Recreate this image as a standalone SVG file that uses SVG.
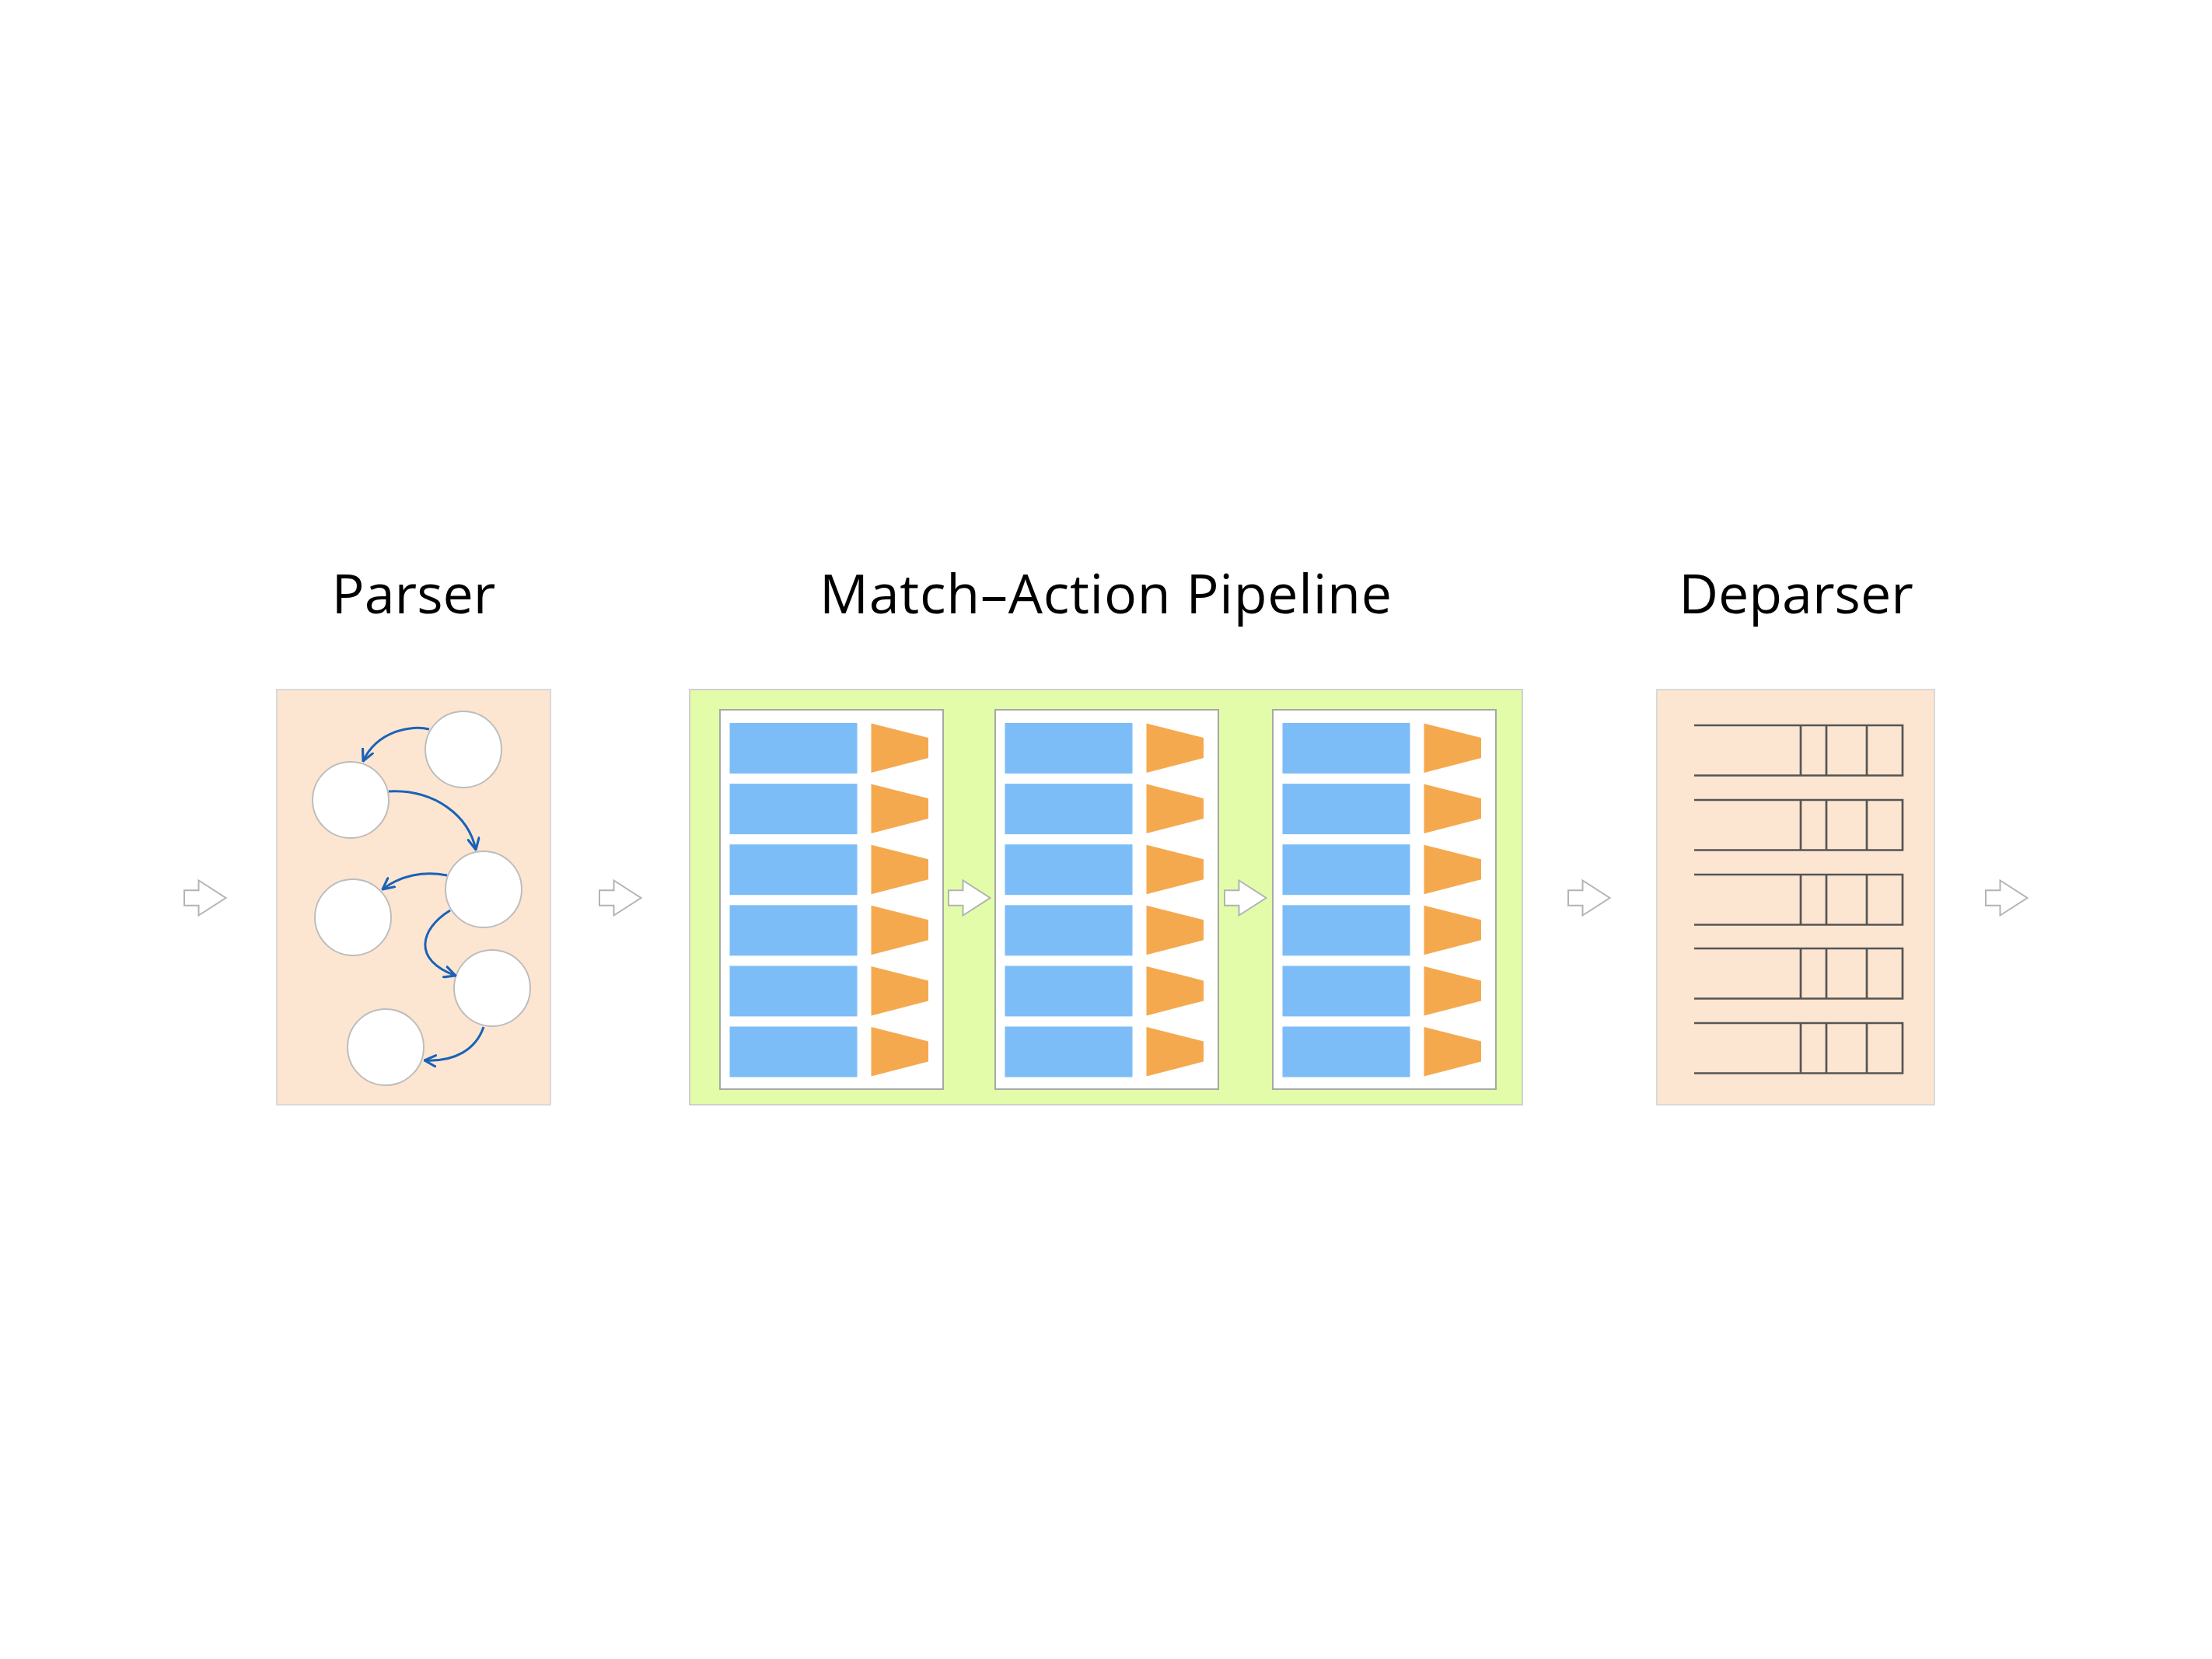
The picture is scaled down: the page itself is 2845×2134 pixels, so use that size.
<svg xmlns="http://www.w3.org/2000/svg" xmlns:xlink="http://www.w3.org/1999/xlink" width="2845" height="2134" viewBox="0 0 2845 2134">
<style>
.title{font-family:"Open Sans","DejaVu Sans",sans-serif;font-size:70px;fill:#000;text-anchor:middle}
.peach{fill:#fde6d1;stroke:#d9d9d9;stroke-width:2}
.lime{fill:#e2fca9;stroke:#d0d0d0;stroke-width:2}
.stage{fill:#fff;stroke:#a8a8a8;stroke-width:2}
.blue{fill:#7dbdf7}
.orange{fill:#f5a94f}
.state{fill:#fff;stroke:#bdbdbd;stroke-width:2}
.edge{fill:none;stroke:#1a62b8;stroke-width:3;marker-end:url(#vhead)}
.blk{fill:#fff;stroke:#b3b3b3;stroke-width:2}
.hdr{fill:none;stroke:#555;stroke-width:2.7}
</style>
<defs>
<marker id="vhead" viewBox="0 0 12 12" refX="11" refY="6" markerWidth="17" markerHeight="17" markerUnits="userSpaceOnUse" orient="auto">
<path d="M1,1 L11,6 L1,11" fill="none" stroke="#1a62b8" stroke-width="2.2" stroke-linecap="round" stroke-linejoin="round"/>
</marker>
<path id="blkarrow" class="blk" d="M0,-9.7 H18.5 V-22.5 L53.5,0 L18.5,22.5 V9.7 H0 Z"/>
<g id="mrow">
<rect class="blue" x="12.5" y="0" width="164" height="65"/>
<polygon class="orange" points="194.5,0.5 268,19 268,45 194.5,64"/>
</g>
<g id="stagecontent">
<rect class="stage" x="0" y="0" width="287" height="488"/>
<use xlink:href="#mrow" y="17"/>
<use xlink:href="#mrow" y="95.1"/>
<use xlink:href="#mrow" y="173.2"/>
<use xlink:href="#mrow" y="251.3"/>
<use xlink:href="#mrow" y="329.4"/>
<use xlink:href="#mrow" y="407.5"/>
</g>
<g id="hrow">
<path class="hdr" d="M2179,0 H2447 V64.5 H2179 M2316,0 V64.5 M2349,0 V64.5 M2401,0 V64.5"/>
</g>
</defs>
<rect width="2845" height="2134" fill="#fff"/>

<g id="titles">
<text class="title" x="532" y="789">Parser</text>
<text class="title" x="1422" y="789" textLength="736" lengthAdjust="spacing">Match–Action Pipeline</text>
<text class="title" x="2310" y="789">Deparser</text>
</g>

<g id="parser">
<rect class="peach" x="356" y="887" width="352" height="534"/>
<circle id="state1" class="state" cx="596" cy="964" r="49"/>
<circle id="state2" class="state" cx="451" cy="1029" r="49"/>
<circle id="state3" class="state" cx="622" cy="1144" r="49"/>
<circle id="state4" class="state" cx="454" cy="1180" r="49"/>
<circle id="state5" class="state" cx="633" cy="1271" r="49"/>
<circle id="state6" class="state" cx="496" cy="1347" r="49"/>
</g>

<g id="pipeline">
<rect class="lime" x="887" y="887" width="1071" height="534"/>
<g id="stage1" transform="translate(926,913)"><use xlink:href="#stagecontent"/></g>
<g id="stage2" transform="translate(1280,913)"><use xlink:href="#stagecontent"/></g>
<g id="stage3" transform="translate(1637,913)"><use xlink:href="#stagecontent"/></g>
</g>

<g id="deparser">
<rect class="peach" x="2131" y="887" width="357" height="534"/>
<use xlink:href="#hrow" y="933"/>
<use xlink:href="#hrow" y="1029"/>
<use xlink:href="#hrow" y="1125"/>
<use xlink:href="#hrow" y="1220"/>
<use xlink:href="#hrow" y="1316"/>
</g>

<g id="connectors">
<path class="edge" d="M552,938 C530,932 485,940 467,979"/>
<path class="edge" d="M500,1018 C560,1015 603,1050 612,1093"/>
<path class="edge" d="M575,1126 C545,1120 515,1126 492,1144"/>
<path class="edge" d="M579,1171 C540,1195 530,1235 586,1255"/>
<path class="edge" d="M622,1321 C612,1350 585,1366 546,1364"/>
<use xlink:href="#blkarrow" x="237" y="1155"/>
<use xlink:href="#blkarrow" x="771" y="1155"/>
<use xlink:href="#blkarrow" x="1220" y="1155"/>
<use xlink:href="#blkarrow" x="1575" y="1155"/>
<use xlink:href="#blkarrow" x="2017" y="1155"/>
<use xlink:href="#blkarrow" x="2554" y="1155"/>
</g>
</svg>
